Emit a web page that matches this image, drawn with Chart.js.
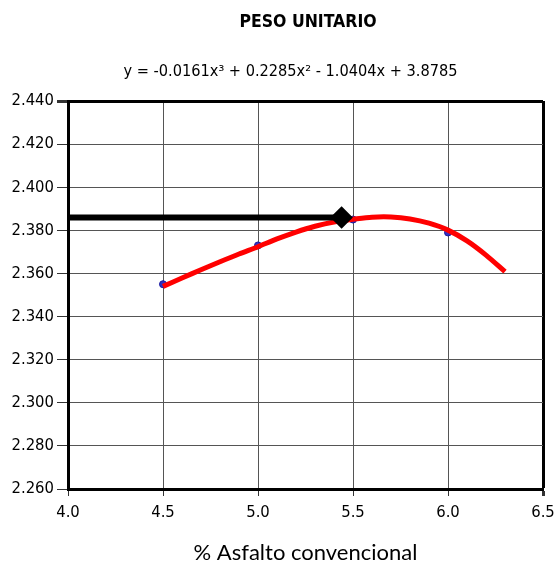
<!DOCTYPE html>
<html>
<head>
<meta charset="utf-8">
<script src="https://cdn.jsdelivr.net/npm/chart.js@4.4.0/dist/chart.umd.min.js"></script>
<style>
    html, body { margin: 0; padding: 0; background: #ffffff; }
    #wrap { width: 558px; height: 567px; }
</style>
</head>
<body>
<div id="wrap"><canvas id="pesoChart" width="558" height="567"></canvas></div>
<script>
// ======================
// DONNEES DU GRAPHIQUE
// ======================
const asfaltoPts = [4.5, 5.0, 5.5, 6.0];
const pesoPts = [2.355, 2.373, 2.385, 2.379];

// courbe de tendance
const curvaX = [4.5, 4.6, 4.7, 4.8, 4.9, 5.0, 5.1, 5.2, 5.3, 5.4, 5.5, 5.6, 5.7, 5.8, 5.9, 6.0, 6.1, 6.2, 6.3];
const curvaY = [2.3540, 2.3579, 2.3617, 2.3654, 2.3690, 2.3724, 2.3760, 2.3792, 2.3819, 2.3839, 2.3851, 2.3861, 2.3862, 2.3853, 2.3833, 2.3801, 2.3751, 2.3685, 2.3608];

// ligne horizontale vers l'axe Y (valeur optimale)
const optimoX = [4.0, 5.44];
const optimoY = [2.386, 2.386];

const titulo = 'PESO UNITARIO';
const ecuacion = 'y = -0.0161x\u00B3 + 0.2285x\u00B2 - 1.0404x + 3.8785';
const tituloX = '% Asfalto convencional';

const xMin = 4.0, xMax = 6.5, xStep = 0.5;
const yMin = 2.26, yMax = 2.44, yStep = 0.02;

const tickFont = "'Liberation Sans Narrow', 'DejaVu Sans Condensed', sans-serif";

function toXY(xs, ys) {
    return xs.map((x, i) => ({ x: x, y: ys[i] }));
}

// titre + équation dessinés au-dessus de la zone du graphique
const encabezado = {
    id: 'encabezado',
    afterDraw(chart) {
        const c = chart.ctx;
        c.save();
        c.fillStyle = '#000000';
        c.textAlign = 'center';
        c.textBaseline = 'middle';
        c.font = 'bold 17.5px ' + tickFont;
        c.fillText(titulo, 308, 22);
        c.font = '16.2px ' + tickFont;
        c.fillText(ecuacion, 290.5, 72);
        c.restore();
    }
};

const ctx = document.getElementById('pesoChart').getContext('2d');

new Chart(ctx, {
    type: 'scatter',
    data: {
        datasets: [
            {
                label: 'Óptimo',
                data: toXY(optimoX, optimoY),
                showLine: true,
                borderColor: '#000000',
                backgroundColor: '#000000',
                borderWidth: 6,
                pointStyle: 'rectRot',
                pointRadius: [0, 7],
                pointHoverRadius: 0,
                order: 1
            },
            {
                label: 'Curva',
                data: toXY(curvaX, curvaY),
                showLine: true,
                borderColor: '#ff0000',
                borderWidth: 5,
                tension: 0.3,
                pointRadius: 0,
                order: 2
            },
            {
                label: 'Datos',
                data: toXY(asfaltoPts, pesoPts),
                showLine: false,
                borderColor: '#1a1aa0',
                backgroundColor: '#3030c0',
                pointRadius: 3.5,
                order: 3
            }
        ]
    },
    options: {
        responsive: false,
        animation: false,
        layout: { padding: { left: 4, right: 15, top: 101, bottom: 1 } },
        plugins: {
            legend: { display: false },
            tooltip: { enabled: false }
        },
        scales: {
            x: {
                type: 'linear',
                min: xMin,
                max: xMax,
                ticks: {
                    stepSize: xStep,
                    color: '#000000',
                    font: { family: tickFont, size: 16.5 },
                    padding: 7,
                    callback: function(value) {
                        return Number(value).toFixed(1);
                    }
                },
                grid: {
                    color: function(c) {
                        return c.tick && Math.abs(c.tick.value - xMax) < 1e-6 ? '#000000' : '#555555';
                    },
                    lineWidth: function(c) {
                        return c.tick && Math.abs(c.tick.value - xMax) < 1e-6 ? 3 : 1;
                    },
                    tickColor: '#333333',
                    tickLength: 7
                },
                border: { color: '#000000', width: 3 },
                title: {
                    display: true,
                    text: tituloX,
                    color: '#000000',
                    font: { family: "Lato, 'Open Sans', sans-serif", size: 22 },
                    padding: { top: 11, bottom: 0 }
                },
                afterFit: function(scale) {
                    scale.height = 77;
                    scale.paddingLeft = 0;
                    scale.paddingRight = 0;
                }
            },
            y: {
                min: yMin,
                max: yMax,
                ticks: {
                    stepSize: yStep,
                    color: '#000000',
                    font: { family: tickFont, size: 16.5 },
                    padding: 3,
                    callback: function(value) {
                        return Number(value).toFixed(3);
                    }
                },
                grid: {
                    color: function(c) {
                        return c.tick && Math.abs(c.tick.value - yMax) < 1e-6 ? '#000000' : '#555555';
                    },
                    lineWidth: function(c) {
                        return c.tick && Math.abs(c.tick.value - yMax) < 1e-6 ? 3 : 1;
                    },
                    tickColor: '#333333',
                    tickLength: 11
                },
                border: { color: '#000000', width: 3 },
                afterFit: function(scale) {
                    scale.width = 64;
                }
            }
        }
    },
    plugins: [encabezado]
});
</script>
</body>
</html>
